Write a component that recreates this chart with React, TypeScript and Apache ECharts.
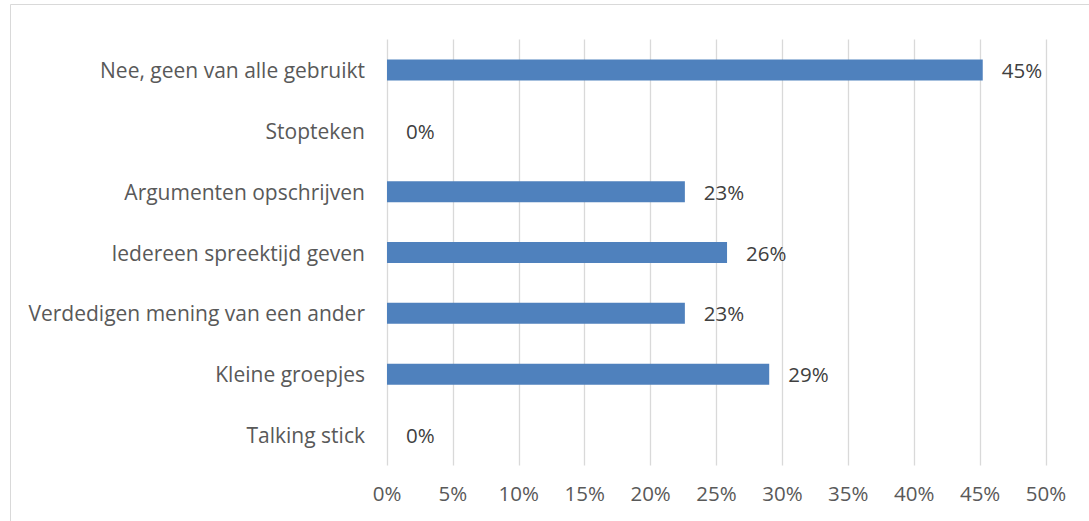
import React, { useEffect, useRef } from "react";
import * as echarts from "echarts";

const categories = [
  "Talking stick",
  "Kleine groepjes",
  "Verdedigen mening van een ander",
  "Iedereen spreektijd geven",
  "Argumenten opschrijven",
  "Stopteken",
  "Nee, geen van alle gebruikt",
];
const values = [0, 29.0, 22.6, 25.8, 22.6, 0, 45.2];
const xTicks = [0, 5, 10, 15, 20, 25, 30, 35, 40, 45, 50];

export default function App() {
  const ref = useRef<HTMLDivElement>(null);
  useEffect(() => {
    if (!ref.current) return;
    const chart = echarts.init(ref.current, undefined, { renderer: "svg" });
    const font = "Open Sans";
    chart.setOption({
      animation: false,
      graphic: [
        {
          type: "rect",
          shape: { x: 10.5, y: 4.5, width: 1100, height: 600 },
          style: { fill: "none", stroke: "#d9d9d9", lineWidth: 1 },
        },
      ],
      grid: { left: 387, right: 43, top: 39.5, bottom: 55.5, containLabel: false },
      xAxis: {
        type: "value",
        min: xTicks[0],
        max: xTicks[xTicks.length - 1],
        interval: 5,
        axisLine: { show: false },
        axisTick: { show: false },
        splitLine: { lineStyle: { color: "#d9d9d9", width: 1.3 } },
        axisLabel: {
          formatter: "{value}%",
          color: "#595959",
          fontFamily: font,
          fontSize: 20.5,
          margin: 17,
        },
      },
      yAxis: {
        type: "category",
        data: categories,
        axisLine: { show: false },
        axisTick: { show: false },
        axisLabel: {
          color: "#595959",
          fontFamily: font,
          fontSize: 21,
          margin: 22,
        },
      },
      series: [
        {
          type: "bar",
          data: values,
          barWidth: 21,
          itemStyle: { color: "#4f81bd" },
          label: {
            show: true,
            position: "right",
            distance: 19,
            formatter: (p: any) => Math.round(p.value) + "%",
            color: "#404040",
            fontFamily: font,
            fontSize: 20.5,
          },
        },
      ],
    });
    return () => chart.dispose();
  }, []);
  return (
    <div
      ref={ref}
      style={{ position: "fixed", left: 0, top: 0, width: 1089, height: 521, background: "#fff" }}
    />
  );
}
